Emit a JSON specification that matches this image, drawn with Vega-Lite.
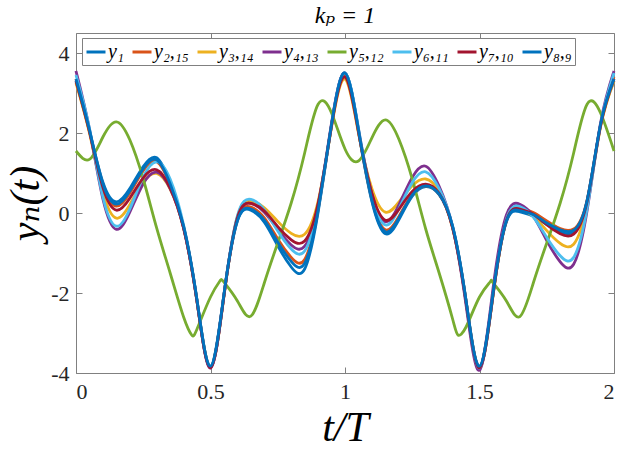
{
  "$schema": "https://vega.github.io/schema/vega-lite/v6.json",
  "width": 538,
  "height": 340,
  "autosize": "none",
  "padding": {"left": 76, "top": 33, "right": 7, "bottom": 81},
  "background": "white",
  "title": {"text": "kₚ = 1", "font": "Liberation Serif, Times New Roman, DejaVu Serif, serif", "fontStyle": "italic", "fontWeight": "normal", "fontSize": 24, "color": "#000000", "offset": 5},
  "config": {
    "view": {"stroke": "#808080", "strokeWidth": 1},
    "axis": {"labelFont": "Liberation Serif, Times New Roman, DejaVu Serif, serif", "labelFontSize": 22, "labelColor": "#262626", "titleFont": "Liberation Serif, Times New Roman, DejaVu Serif, serif", "titleFontStyle": "italic", "titleFontWeight": "normal", "titleFontSize": 42, "titleColor": "#000000", "grid": false, "domain": false, "tickColor": "#808080", "tickSize": -6}
  },
  "data": {
    "values": [
      {"t": 0, "y1": 3.3, "y2_15": 3.35, "y3_14": 3.25, "y4_13": 3.55, "y5_12": 1.55, "y6_11": 3.45, "y7_10": 3.3, "y8_9": 3.35},
      {"t": 0.05, "y1": 2.05, "y2_15": 2.05, "y3_14": 2.0, "y4_13": 2.1, "y5_12": 1.34, "y6_11": 2.12, "y7_10": 2.03, "y8_9": 2.08},
      {"t": 0.1, "y1": 0.77, "y2_15": 0.70, "y3_14": 0.52, "y4_13": 0.35, "y5_12": 1.9, "y6_11": 0.40, "y7_10": 0.64, "y8_9": 0.73},
      {"t": 0.15, "y1": 0.28, "y2_15": 0.17, "y3_14": -0.13, "y4_13": -0.41, "y5_12": 2.28, "y6_11": -0.33, "y7_10": 0.07, "y8_9": 0.22},
      {"t": 0.2, "y1": 0.61, "y2_15": 0.50, "y3_14": 0.21, "y4_13": 0.02, "y5_12": 1.83, "y6_11": 0.10, "y7_10": 0.37, "y8_9": 0.55},
      {"t": 0.25, "y1": 1.16, "y2_15": 1.06, "y3_14": 0.77, "y4_13": 0.73, "y5_12": 0.85, "y6_11": 0.90, "y7_10": 0.88, "y8_9": 1.11},
      {"t": 0.3, "y1": 1.38, "y2_15": 1.28, "y3_14": 0.99, "y4_13": 1.02, "y5_12": -0.38, "y6_11": 1.28, "y7_10": 1.08, "y8_9": 1.33},
      {"t": 0.35, "y1": 0.75, "y2_15": 0.71, "y3_14": 0.60, "y4_13": 0.61, "y5_12": -1.5, "y6_11": 0.85, "y7_10": 0.63, "y8_9": 0.73},
      {"t": 0.4, "y1": -0.35, "y2_15": -0.35, "y3_14": -0.38, "y4_13": -0.38, "y5_12": -2.6, "y6_11": -0.3, "y7_10": -0.37, "y8_9": -0.33},
      {"t": 0.43, "y5_12": -3.05},
      {"t": 0.45, "y1": -2.2, "y2_15": -2.2, "y3_14": -2.22, "y4_13": -2.22, "y5_12": -2.9, "y6_11": -2.18, "y7_10": -2.22, "y8_9": -2.18},
      {"t": 0.5, "y1": -3.85, "y2_15": -3.85, "y3_14": -3.85, "y4_13": -3.88, "y5_12": -2.1, "y6_11": -3.85, "y7_10": -3.87, "y8_9": -3.83},
      {"t": 0.535, "y5_12": -1.7},
      {"t": 0.55, "y1": -2.05, "y2_15": -2.05, "y3_14": -2.08, "y4_13": -2.05, "y5_12": -1.73, "y6_11": -2.05, "y7_10": -2.07, "y8_9": -2.03},
      {"t": 0.6, "y1": -0.2, "y2_15": -0.16, "y3_14": -0.09, "y4_13": -0.12, "y5_12": -2.2, "y6_11": -0.07, "y7_10": -0.12, "y8_9": -0.19},
      {"t": 0.65, "y1": 0.07, "y2_15": 0.15, "y3_14": 0.3, "y4_13": 0.24, "y5_12": -2.58, "y6_11": 0.34, "y7_10": 0.24, "y8_9": 0.1},
      {"t": 0.7, "y1": -0.23, "y2_15": -0.12, "y3_14": 0.13, "y4_13": 0.02, "y5_12": -1.75, "y6_11": 0.08, "y7_10": 0.05, "y8_9": -0.18},
      {"t": 0.75, "y1": -0.82, "y2_15": -0.65, "y3_14": -0.21, "y4_13": -0.41, "y5_12": -0.75, "y6_11": -0.45, "y7_10": -0.34, "y8_9": -0.73},
      {"t": 0.8, "y1": -1.35, "y2_15": -1.11, "y3_14": -0.51, "y4_13": -0.80, "y5_12": 0.25, "y6_11": -0.90, "y7_10": -0.67, "y8_9": -1.21},
      {"t": 0.85, "y1": -1.40, "y2_15": -1.16, "y3_14": -0.53, "y4_13": -0.83, "y5_12": 1.5, "y6_11": -0.95, "y7_10": -0.70, "y8_9": -1.26},
      {"t": 0.9, "y1": 0.02, "y2_15": 0.10, "y3_14": 0.29, "y4_13": 0.20, "y5_12": 2.72, "y6_11": 0.16, "y7_10": 0.23, "y8_9": 0.07},
      {"t": 0.95, "y1": 2.2, "y2_15": 2.2, "y3_14": 2.15, "y4_13": 2.25, "y5_12": 2.5, "y6_11": 2.2, "y7_10": 2.18, "y8_9": 2.22},
      {"t": 1.0, "y1": 3.5, "y2_15": 3.45, "y3_14": 3.35, "y4_13": 3.5, "y5_12": 1.6, "y6_11": 3.5, "y7_10": 3.4, "y8_9": 3.5},
      {"t": 1.05, "y1": 2.05, "y2_15": 2.05, "y3_14": 2.0, "y4_13": 2.1, "y5_12": 1.3, "y6_11": 2.12, "y7_10": 2.03, "y8_9": 2.08},
      {"t": 1.1, "y1": 0.29, "y2_15": 0.35, "y3_14": 0.61, "y4_13": 0.47, "y5_12": 1.88, "y6_11": 0.42, "y7_10": 0.49, "y8_9": 0.32},
      {"t": 1.15, "y1": -0.52, "y2_15": -0.42, "y3_14": 0.02, "y4_13": -0.22, "y5_12": 2.33, "y6_11": -0.3, "y7_10": -0.18, "y8_9": -0.47},
      {"t": 1.2, "y1": -0.17, "y2_15": -0.09, "y3_14": 0.27, "y4_13": 0.20, "y5_12": 1.85, "y6_11": 0.10, "y7_10": 0.09, "y8_9": -0.13},
      {"t": 1.25, "y1": 0.42, "y2_15": 0.46, "y3_14": 0.68, "y4_13": 0.89, "y5_12": 0.85, "y6_11": 0.76, "y7_10": 0.54, "y8_9": 0.45},
      {"t": 1.3, "y1": 0.66, "y2_15": 0.68, "y3_14": 0.85, "y4_13": 1.17, "y5_12": -0.4, "y6_11": 1.03, "y7_10": 0.72, "y8_9": 0.68},
      {"t": 1.35, "y1": 0.46, "y2_15": 0.47, "y3_14": 0.54, "y4_13": 0.67, "y5_12": -1.5, "y6_11": 0.61, "y7_10": 0.49, "y8_9": 0.47},
      {"t": 1.4, "y1": -0.35, "y2_15": -0.35, "y3_14": -0.38, "y4_13": -0.35, "y5_12": -2.65, "y6_11": -0.33, "y7_10": -0.37, "y8_9": -0.33},
      {"t": 1.42, "y5_12": -3.05},
      {"t": 1.45, "y1": -2.2, "y2_15": -2.2, "y3_14": -2.22, "y4_13": -2.3, "y5_12": -2.85, "y6_11": -2.2, "y7_10": -2.22, "y8_9": -2.18},
      {"t": 1.5, "y1": -3.85, "y2_15": -3.85, "y3_14": -3.85, "y4_13": -3.93, "y5_12": -2.1, "y6_11": -3.88, "y7_10": -3.87, "y8_9": -3.83},
      {"t": 1.54, "y5_12": -1.72},
      {"t": 1.55, "y1": -2.05, "y2_15": -2.05, "y3_14": -2.08, "y4_13": -1.9, "y5_12": -1.74, "y6_11": -2.05, "y7_10": -2.07, "y8_9": -2.03},
      {"t": 1.6, "y1": -0.22, "y2_15": -0.18, "y3_14": -0.19, "y4_13": -0.05, "y5_12": -2.2, "y6_11": -0.16, "y7_10": -0.19, "y8_9": -0.2},
      {"t": 1.65, "y1": 0.03, "y2_15": 0.12, "y3_14": 0.1, "y4_13": 0.22, "y5_12": -2.59, "y6_11": 0.16, "y7_10": 0.1, "y8_9": 0.06},
      {"t": 1.7, "y1": -0.08, "y2_15": 0.01, "y3_14": -0.08, "y4_13": -0.08, "y5_12": -1.75, "y6_11": -0.10, "y7_10": -0.03, "y8_9": -0.04},
      {"t": 1.75, "y1": -0.29, "y2_15": -0.20, "y3_14": -0.44, "y4_13": -0.69, "y5_12": -0.75, "y6_11": -0.61, "y7_10": -0.29, "y8_9": -0.25},
      {"t": 1.8, "y1": -0.47, "y2_15": -0.39, "y3_14": -0.76, "y4_13": -1.22, "y5_12": 0.25, "y6_11": -1.07, "y7_10": -0.52, "y8_9": -0.42},
      {"t": 1.85, "y1": -0.48, "y2_15": -0.40, "y3_14": -0.78, "y4_13": -1.28, "y5_12": 1.5, "y6_11": -1.11, "y7_10": -0.53, "y8_9": -0.43},
      {"t": 1.9, "y1": 0.3, "y2_15": 0.32, "y3_14": 0.21, "y4_13": 0.06, "y5_12": 2.72, "y6_11": 0.11, "y7_10": 0.29, "y8_9": 0.32},
      {"t": 1.95, "y1": 2.2, "y2_15": 2.2, "y3_14": 2.15, "y4_13": 2.25, "y5_12": 2.5, "y6_11": 2.2, "y7_10": 2.18, "y8_9": 2.22},
      {"t": 2.0, "y1": 3.3, "y2_15": 3.4, "y3_14": 3.3, "y4_13": 3.55, "y5_12": 1.55, "y6_11": 3.5, "y7_10": 3.35, "y8_9": 3.35}
    ]
  },
  "transform": [
    {"fold": ["y1", "y2_15", "y3_14", "y4_13", "y5_12", "y6_11", "y7_10", "y8_9"], "as": ["series", "value"]},
    {"filter": "isValid(datum.value)"}
  ],
  "layer": [
    {
      "mark": {"type": "line", "interpolate": "natural", "strokeWidth": 2.8},
      "encoding": {
        "x": {"field": "t", "type": "quantitative", "scale": {"domain": [0, 2], "nice": false},
              "axis": {"values": [0, 0.5, 1, 1.5, 2], "labelExpr": "datum.value + ''", "labelPadding": 14, "title": "t/T", "titlePadding": 5}},
        "y": {"field": "value", "type": "quantitative", "scale": {"domain": [-4, 4.5], "nice": false, "zero": false},
              "axis": {"values": [-4, -2, 0, 2, 4], "labelExpr": "datum.value + ''", "labelPadding": 13, "title": "yₙ(t)", "titlePadding": 3}},
        "color": {"field": "series", "type": "nominal",
                  "scale": {"domain": ["y1", "y2_15", "y3_14", "y4_13", "y5_12", "y6_11", "y7_10", "y8_9"],
                            "range": ["#0072BD", "#D95319", "#EDB120", "#7E2F8E", "#77AC30", "#4DBEEE", "#A2142F", "#0072BE"]},
                  "legend": {"title": null, "orient": "none", "legendX": 6, "legendY": 5, "direction": "horizontal", "columns": 8,
                             "symbolType": "stroke", "symbolSize": 361, "symbolStrokeWidth": 3,
                             "labelFont": "Liberation Serif, Times New Roman, DejaVu Serif, serif", "labelFontStyle": "italic", "labelFontSize": 20, "labelColor": "#000000",
                             "labelOffset": 1, "columnPadding": 2, "padding": 3,
                             "strokeColor": "#808080", "fillColor": "#ffffff",
                             "labelExpr": "datum.label == 'y1' ? 'y₁' : datum.label == 'y2_15' ? 'y₂,₁₅' : datum.label == 'y3_14' ? 'y₃,₁₄' : datum.label == 'y4_13' ? 'y₄,₁₃' : datum.label == 'y5_12' ? 'y₅,₁₂' : datum.label == 'y6_11' ? 'y₆,₁₁' : datum.label == 'y7_10' ? 'y₇,₁₀' : 'y₈,₉'"}}
      }
    },
    {
      "mark": {"type": "line", "strokeOpacity": 0},
      "encoding": {
        "x": {"field": "t", "type": "quantitative", "scale": {"domain": [0, 2], "nice": false},
              "axis": {"orient": "top", "values": [0, 0.5, 1, 1.5, 2], "labels": false, "title": null}},
        "y": {"field": "value", "type": "quantitative", "scale": {"domain": [-4, 4.5], "nice": false, "zero": false},
              "axis": {"orient": "right", "values": [-4, -2, 0, 2, 4], "labels": false, "title": null}},
        "detail": {"field": "series"}
      }
    }
  ],
  "resolve": {"axis": {"x": "independent", "y": "independent"}}
}
